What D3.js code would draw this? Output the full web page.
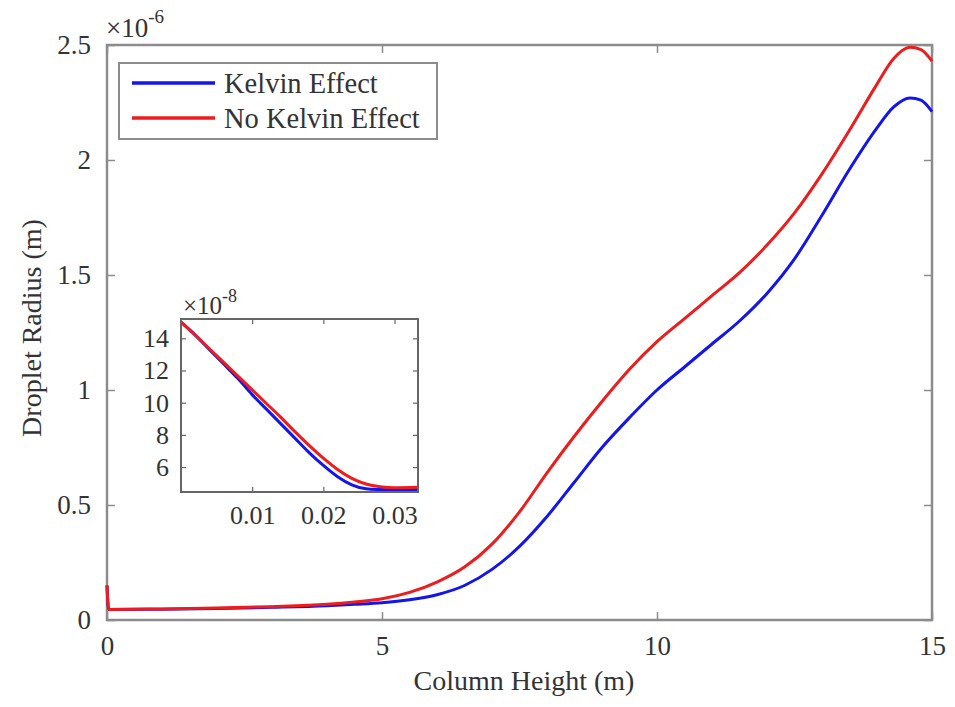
<!DOCTYPE html>
<html>
<head>
<meta charset="utf-8">
<script src="https://cdn.jsdelivr.net/npm/d3@7"></script>
<style>
  html, body { margin: 0; padding: 0; background: #fff; }
  svg { display: block; }
  text { font-family: "Liberation Serif", "Times New Roman", serif; fill: #333; }
</style>
</head>
<body>
<svg id="chart" width="955" height="707"></svg>
<script>
// ---- Data (main plot: column height in m, radius in 1e-6 m) ----
const heightX = [0, 0.03, 1, 2, 3, 4, 4.5, 5, 5.5, 6, 6.5, 7, 7.5, 8, 8.5, 9, 9.5, 10, 10.5, 11, 11.5, 12, 12.5, 13, 13.5, 14, 14.3, 14.6, 14.8, 15];
const kelvinY = [0.15, 0.046, 0.047, 0.05, 0.055, 0.062, 0.068, 0.075, 0.088, 0.11, 0.15, 0.22, 0.32, 0.45, 0.60, 0.75, 0.88, 1.0, 1.1, 1.2, 1.3, 1.42, 1.57, 1.76, 1.96, 2.14, 2.23, 2.27, 2.26, 2.21];
const noKelvinY = [0.15, 0.046, 0.048, 0.052, 0.058, 0.068, 0.078, 0.092, 0.12, 0.165, 0.23, 0.33, 0.47, 0.64, 0.80, 0.95, 1.09, 1.21, 1.31, 1.41, 1.51, 1.63, 1.77, 1.94, 2.13, 2.33, 2.44, 2.49, 2.48, 2.43];

// ---- Data (inset: column height in m, radius in 1e-8 m) ----
const insetX = [0, 0.002, 0.004, 0.006, 0.008, 0.010, 0.012, 0.014, 0.016, 0.018, 0.020, 0.022, 0.024, 0.026, 0.028, 0.030, 0.0333];
const insetKelvin = [15.0, 14.2, 13.3, 12.4, 11.5, 10.5, 9.6, 8.7, 7.8, 6.9, 6.1, 5.4, 4.9, 4.65, 4.6, 4.58, 4.6];
const insetNoKelvin = [15.0, 14.2, 13.35, 12.5, 11.65, 10.8, 9.95, 9.1, 8.2, 7.35, 6.55, 5.85, 5.3, 4.95, 4.78, 4.72, 4.75];

// ---- Ticks / labels ----
const xTicks = [0, 5, 10, 15];
const yTicks = [0, 0.5, 1, 1.5, 2, 2.5];
const yTickLabels = ["0", "0.5", "1", "1.5", "2", "2.5"];
const insetXTicks = [0.01, 0.02, 0.03];
const insetYTicks = [6, 8, 10, 12, 14];
const seriesNames = ["Kelvin Effect", "No Kelvin Effect"];
const seriesColors = ["#1414ee", "#ee1c1c"];

const svg = d3.select("#chart");
const axisColor = "#8c8c8c";
const textColor = "#3a3a3a";
const fontSize = 27;
const titleSize = 28;

// ---- Main axes ----
const M = { left: 107, right: 932, top: 45, bottom: 620 };
const x = d3.scaleLinear().domain([0, 15]).range([M.left, M.right]);
const y = d3.scaleLinear().domain([0, 2.5]).range([M.bottom, M.top]);

function styleAxis(g, showLabels) {
  g.select(".domain").remove();
  g.selectAll(".tick line").attr("stroke", axisColor).attr("stroke-width", 1.5);
  g.selectAll(".tick text")
    .style("font-size", fontSize + "px")
    .style("font-family", '"Liberation Serif", serif')
    .attr("fill", textColor);
  if (!showLabels) g.selectAll(".tick text").remove();
}

svg.append("g").attr("transform", `translate(0,${M.bottom})`)
  .call(d3.axisBottom(x).tickValues(xTicks).tickSize(-8).tickPadding(16).tickFormat(d3.format("d")))
  .call(g => styleAxis(g, true));
svg.append("g").attr("transform", `translate(0,${M.top})`)
  .call(d3.axisTop(x).tickValues(xTicks).tickSize(-8).tickFormat(""))
  .call(g => styleAxis(g, false));
svg.append("g").attr("transform", `translate(${M.left},0)`)
  .call(d3.axisLeft(y).tickValues(yTicks).tickSize(-8).tickPadding(16).tickFormat((d, i) => yTickLabels[i]))
  .call(g => styleAxis(g, true));
svg.append("g").attr("transform", `translate(${M.right},0)`)
  .call(d3.axisRight(y).tickValues(yTicks).tickSize(-8).tickFormat(""))
  .call(g => styleAxis(g, false));

svg.append("rect")
  .attr("x", M.left).attr("y", M.top)
  .attr("width", M.right - M.left).attr("height", M.bottom - M.top)
  .attr("fill", "none").attr("stroke", axisColor).attr("stroke-width", 2.5);

const expMain = svg.append("text").attr("x", 106).attr("y", 37)
  .style("font-size", fontSize + "px").attr("fill", textColor);
expMain.append("tspan").text("×10");
expMain.append("tspan").attr("dy", -14).style("font-size", "19px").text("-6");

svg.append("text").attr("x", 524).attr("y", 690)
  .attr("text-anchor", "middle").style("font-size", titleSize + "px").attr("fill", textColor)
  .text("Column Height (m)");
svg.append("text").attr("transform", `translate(41,${328}) rotate(-90)`)
  .attr("text-anchor", "middle").style("font-size", titleSize + "px").attr("fill", textColor)
  .text("Droplet Radius (m)");

const mainLine = (ys) => d3.line().curve(d3.curveMonotoneX)
  .x((d, i) => x(heightX[i])).y((d) => y(d))(ys);

svg.append("path").attr("d", mainLine(kelvinY))
  .attr("fill", "none").attr("stroke", seriesColors[0]).attr("stroke-width", 3);
svg.append("path").attr("d", mainLine(noKelvinY))
  .attr("fill", "none").attr("stroke", seriesColors[1]).attr("stroke-width", 3);

// ---- Legend ----
const L = { x: 119, y: 63, w: 318, h: 76 };
svg.append("rect").attr("x", L.x).attr("y", L.y).attr("width", L.w).attr("height", L.h)
  .attr("fill", "#fff").attr("stroke", axisColor).attr("stroke-width", 2);
seriesNames.forEach((name, i) => {
  const cy = 83 + i * 35;
  svg.append("line").attr("x1", 132).attr("x2", 215).attr("y1", cy).attr("y2", cy)
    .attr("stroke", seriesColors[i]).attr("stroke-width", 3.5);
  svg.append("text").attr("x", 224).attr("y", cy + 10)
    .style("font-size", "28.5px").attr("fill", textColor).text(name);
});

// ---- Inset ----
const I = { left: 181, right: 418, top: 319, bottom: 492 };
const ix = d3.scaleLinear().domain([0, 0.0333]).range([I.left, I.right]);
const iy = d3.scaleLinear().domain([4.45, 15.2]).range([I.bottom, I.top]);

svg.append("rect").attr("x", I.left).attr("y", I.top)
  .attr("width", I.right - I.left).attr("height", I.bottom - I.top)
  .attr("fill", "#fff");

const insetAxisColor = "#666";
function styleInset(g, showLabels) {
  g.select(".domain").remove();
  g.selectAll(".tick line").attr("stroke", insetAxisColor).attr("stroke-width", 1.2);
  g.selectAll(".tick text")
    .style("font-size", "26px")
    .style("font-family", '"Liberation Serif", serif')
    .attr("fill", textColor);
  if (!showLabels) g.selectAll(".tick text").remove();
}
svg.append("g").attr("transform", `translate(0,${I.bottom})`)
  .call(d3.axisBottom(ix).tickValues(insetXTicks).tickSize(-5).tickPadding(14).tickFormat(d3.format(".2f")))
  .call(g => styleInset(g, true));
svg.append("g").attr("transform", `translate(0,${I.top})`)
  .call(d3.axisTop(ix).tickValues(insetXTicks).tickSize(-5).tickFormat(""))
  .call(g => styleInset(g, false));
svg.append("g").attr("transform", `translate(${I.left},0)`)
  .call(d3.axisLeft(iy).tickValues(insetYTicks).tickSize(-5).tickPadding(12).tickFormat(d3.format("d")))
  .call(g => styleInset(g, true));
svg.append("g").attr("transform", `translate(${I.right},0)`)
  .call(d3.axisRight(iy).tickValues(insetYTicks).tickSize(-5).tickFormat(""))
  .call(g => styleInset(g, false));

const insetLine = (ys) => d3.line().curve(d3.curveMonotoneX)
  .x((d, i) => ix(insetX[i])).y((d) => iy(d))(ys);
svg.append("path").attr("d", insetLine(insetKelvin))
  .attr("fill", "none").attr("stroke", seriesColors[0]).attr("stroke-width", 3);
svg.append("path").attr("d", insetLine(insetNoKelvin))
  .attr("fill", "none").attr("stroke", seriesColors[1]).attr("stroke-width", 3);

svg.append("rect").attr("x", I.left).attr("y", I.top)
  .attr("width", I.right - I.left).attr("height", I.bottom - I.top)
  .attr("fill", "none").attr("stroke", insetAxisColor).attr("stroke-width", 2);

const expInset = svg.append("text").attr("x", 183).attr("y", 314)
  .style("font-size", "25px").attr("fill", textColor);
expInset.append("tspan").text("×10");
expInset.append("tspan").attr("dy", -12).style("font-size", "18px").text("-8");
</script>
</body>
</html>
